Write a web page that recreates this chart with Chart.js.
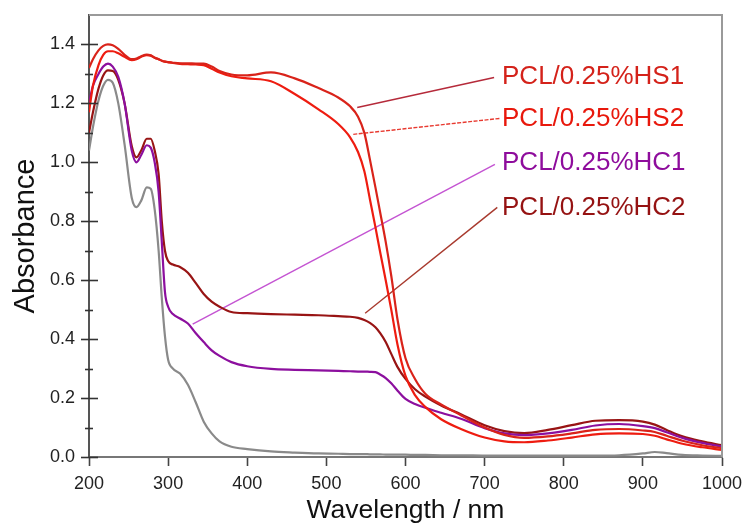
<!DOCTYPE html>
<html>
<head>
<meta charset="utf-8">
<script src="https://cdn.jsdelivr.net/npm/chart.js@4.4.1/dist/chart.umd.min.js"></script>
<style>
  body { margin: 0; background: #fff; }
  #wrap { width: 743px; height: 527px; }
</style>
</head>
<body>
<div id="wrap"><canvas id="uvChart"></canvas></div>
<script>
// wavelengths (nm) shared by all spectra
const wavelengths = [200, 205, 212, 218, 224, 230, 237, 245, 254, 260, 266, 273, 278, 283, 288, 292, 296, 300, 306, 315,
    325, 335, 345, 355, 365, 380, 400, 430, 460, 490, 515, 530, 540, 548, 555, 562, 568, 575, 582, 590,
    600, 612, 625, 645, 670, 700, 725, 750, 780, 810, 840, 870, 900, 915, 930, 950, 975, 1000];

const hs1 = [1.32, 1.35, 1.38, 1.395, 1.40, 1.397, 1.385, 1.365, 1.35, 1.352, 1.36, 1.366, 1.363, 1.355, 1.35, 1.345, 1.342, 1.34, 1.338, 1.336,
    1.336, 1.335, 1.335, 1.325, 1.31, 1.298, 1.295, 1.305, 1.285, 1.252, 1.22, 1.19, 1.155, 1.10, 1.01, 0.915, 0.83, 0.73, 0.615, 0.465,
    0.335, 0.265, 0.215, 0.178, 0.142, 0.10, 0.075, 0.065, 0.07, 0.08, 0.092, 0.095, 0.09, 0.085, 0.072, 0.055, 0.04, 0.03];

const hs2 = [1.17, 1.26, 1.33, 1.365, 1.377, 1.377, 1.37, 1.358, 1.347, 1.35, 1.358, 1.364, 1.362, 1.355, 1.35, 1.345, 1.342, 1.34, 1.337, 1.334,
    1.333, 1.332, 1.33, 1.318, 1.305, 1.292, 1.285, 1.275, 1.232, 1.18, 1.13, 1.085, 1.035, 0.97, 0.875, 0.78, 0.695, 0.60, 0.50, 0.38,
    0.275, 0.21, 0.17, 0.128, 0.095, 0.066, 0.053, 0.05, 0.056, 0.066, 0.077, 0.08, 0.078, 0.072, 0.06, 0.045, 0.033, 0.024];

const hc1 = [1.20, 1.26, 1.30, 1.325, 1.335, 1.325, 1.29, 1.2, 1.04, 1.00, 1.025, 1.058, 1.05, 1.0, 0.90, 0.73, 0.56, 0.51, 0.485, 0.47,
    0.453, 0.42, 0.39, 0.362, 0.343, 0.322, 0.308, 0.299, 0.296, 0.294, 0.292, 0.291, 0.29, 0.29, 0.289, 0.288, 0.28, 0.268, 0.25, 0.225,
    0.197, 0.18, 0.167, 0.15, 0.13, 0.098, 0.08, 0.074, 0.08, 0.092, 0.107, 0.112, 0.105, 0.098, 0.084, 0.065, 0.048, 0.035];

const hc2 = [1.10, 1.17, 1.25, 1.295, 1.312, 1.31, 1.28, 1.2, 1.055, 1.017, 1.04, 1.08, 1.08, 1.04, 0.96, 0.80, 0.70, 0.665, 0.653, 0.645,
    0.625, 0.59, 0.553, 0.527, 0.51, 0.492, 0.488, 0.485, 0.483, 0.481, 0.478, 0.476, 0.472, 0.465, 0.455, 0.44, 0.42, 0.39, 0.35, 0.305,
    0.265, 0.23, 0.205, 0.175, 0.145, 0.108, 0.088, 0.081, 0.092, 0.108, 0.123, 0.125, 0.12, 0.11, 0.092, 0.07, 0.053, 0.04];

// neat PCL film (grey curve, no label)
const pcl = [1.04, 1.12, 1.21, 1.26, 1.28, 1.27, 1.2, 1.06, 0.88, 0.848, 0.87, 0.915, 0.91, 0.84, 0.70, 0.54, 0.41, 0.33, 0.30, 0.283,
    0.245, 0.185, 0.12, 0.08, 0.053, 0.035, 0.027, 0.019, 0.015, 0.012, 0.011, 0.01, 0.01, 0.01, 0.009, 0.009, 0.009, 0.008, 0.008, 0.008,
    0.008, 0.007, 0.007, 0.006, 0.006, 0.005, 0.005, 0.005, 0.005, 0.005, 0.005, 0.006, 0.012, 0.017, 0.013, 0.007, 0.005, 0.004];

const labelNames = ["PCL/0.25%HS1", "PCL/0.25%HS2", "PCL/0.25%HC1", "PCL/0.25%HC2"];
const labelX = [722, 722, 722, 722];          // nm
const labelY = [1.29, 1.149, 0.997, 0.847];   // absorbance
// leader lines: from point on curve to label
const leaderFrom = [[539, 1.186], [534, 1.095], [331, 0.451], [549, 0.488]];
const leaderTo = [[712, 1.288], [719, 1.149], [713, 0.993], [716, 0.847]];

const xTicks = [200, 300, 400, 500, 600, 700, 800, 900, 1000];
const yMajorTicks = [0, 0.2, 0.4, 0.6, 0.8, 1.0, 1.2, 1.4];
const yMinorTicks = [0.1, 0.3, 0.5, 0.7, 0.9, 1.1, 1.3];

const curveColors = ['#d9231a', '#ee1c10', '#8c0f9e', '#981414', '#8a8a8a'];
const labelColors = ['#d4221a', '#e8180c', '#8e0c9c', '#951212'];
const leaderColors = ['#b52a3a', '#e83a30', '#c454d2', '#a83a2e'];

const fontFamily = '"Liberation Sans", Arial, sans-serif';

function toPoints(ys) {
    return wavelengths.map((w, i) => ({ x: w, y: ys[i] }));
}

const datasets = [];
[hs1, hs2, hc1, hc2, pcl].forEach((ys, i) => {
    datasets.push({
        data: toPoints(ys),
        borderColor: curveColors[i],
        borderWidth: 2.2,
        pointRadius: 0,
        cubicInterpolationMode: 'monotone',
        fill: false
    });
});
leaderFrom.forEach((p, i) => {
    datasets.push({
        data: [{ x: p[0], y: p[1] }, { x: leaderTo[i][0], y: leaderTo[i][1] }],
        borderColor: leaderColors[i],
        borderWidth: 1.4,
        borderDash: i === 1 ? [4, 1.5] : [],
        pointRadius: 0,
        fill: false
    });
});

const framePlugin = {
    id: 'frame',
    afterDraw(chart) {
        const ctx = chart.ctx;
        const a = chart.chartArea;
        const ys = chart.scales.y;
        ctx.save();
        // top and right frame
        ctx.strokeStyle = '#9a9a9a';
        ctx.lineWidth = 2;
        ctx.beginPath();
        ctx.moveTo(a.left, a.top);
        ctx.lineTo(a.right, a.top);
        ctx.lineTo(a.right, a.bottom);
        ctx.stroke();
        // y ticks crossing the axis
        ctx.strokeStyle = '#333';
        ctx.lineWidth = 1.6;
        yMajorTicks.forEach(v => {
            const y = Math.round(ys.getPixelForValue(v)) + 0.5;
            ctx.beginPath();
            ctx.moveTo(a.left - 8, y);
            ctx.lineTo(a.left + 9, y);
            ctx.stroke();
        });
        yMinorTicks.forEach(v => {
            const y = Math.round(ys.getPixelForValue(v)) + 0.5;
            ctx.beginPath();
            ctx.moveTo(a.left - 4, y);
            ctx.lineTo(a.left + 4, y);
            ctx.stroke();
        });
        // curve labels
        ctx.font = '26px ' + fontFamily;
        ctx.textBaseline = 'middle';
        ctx.textAlign = 'left';
        labelNames.forEach((t, i) => {
            ctx.fillStyle = labelColors[i];
            ctx.fillText(t, chart.scales.x.getPixelForValue(labelX[i]), ys.getPixelForValue(labelY[i]));
        });
        ctx.restore();
    }
};

new Chart(document.getElementById('uvChart'), {
    type: 'line',
    data: { datasets: datasets },
    options: {
        responsive: true,
        maintainAspectRatio: false,
        animation: false,
        layout: { padding: { top: 15, right: 21, left: 0, bottom: 0 } },
        plugins: {
            legend: { display: false },
            tooltip: { enabled: false }
        },
        scales: {
            x: {
                type: 'linear',
                min: 200,
                max: 1000,
                afterBuildTicks: s => { s.ticks = xTicks.map(v => ({ value: v })); },
                afterFit: s => { s.height = 70; s.paddingLeft = 0; s.paddingRight = 0; },
                ticks: {
                    color: '#222',
                    padding: 7,
                    maxRotation: 0,
                    callback: v => String(v),
                    font: { family: fontFamily, size: 18 }
                },
                grid: { drawOnChartArea: false, tickLength: 9, tickColor: '#444', tickWidth: 1.6 },
                border: { color: '#777', width: 2 },
                title: {
                    display: true,
                    text: 'Wavelength / nm',
                    color: '#111',
                    padding: { top: 0, bottom: 0 },
                    font: { family: fontFamily, size: 26.5 }
                }
            },
            y: {
                min: 0,
                max: 1.5,
                afterBuildTicks: s => { s.ticks = yMajorTicks.map(v => ({ value: v })); },
                afterFit: s => { s.width = 89; s.paddingTop = 0; s.paddingBottom = 0; },
                ticks: {
                    color: '#222',
                    padding: 14,
                    callback: v => v.toFixed(1),
                    font: { family: fontFamily, size: 18 }
                },
                grid: { drawOnChartArea: false, drawTicks: false },
                border: { color: '#555', width: 2 },
                title: {
                    display: true,
                    text: 'Absorbance',
                    color: '#111',
                    padding: { top: 9, bottom: 0 },
                    font: { family: fontFamily, size: 29 }
                }
            }
        }
    },
    plugins: [framePlugin]
});
</script>
</body>
</html>
